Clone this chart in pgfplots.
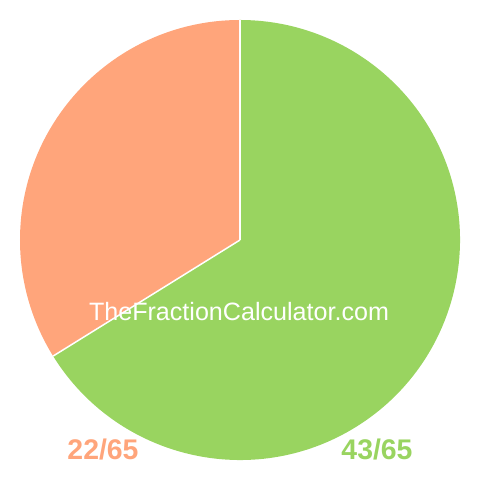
\documentclass[border=0pt]{standalone}
\usepackage{fontspec}
\setmainfont{Liberation Sans}
\usepackage{pgfplots}
\usepackage{pgfplotstable}
\pgfplotsset{compat=1.18}
\definecolor{sliceA}{HTML}{FFA57B}
\definecolor{sliceB}{HTML}{99D460}
\pgfplotstableread{
part value
1 22
2 43
}\slices
\begin{document}
\begin{tikzpicture}
\pgfplotstablegetelem{0}{value}\of\slices \let\va\pgfplotsretval
\pgfplotstablegetelem{1}{value}\of\slices \let\vb\pgfplotsretval
\pgfmathsetmacro{\tot}{\va+\vb}
\pgfmathsetmacro{\angA}{90+360*\va/\tot}
\begin{axis}[x=1bp, y=1bp, xmin=0, xmax=480, ymin=0, ymax=480,
  hide axis, scale only axis, clip=false]
  \coordinate (ll) at (axis cs:0,0);
  \coordinate (ur) at (axis cs:480,480);
  % orange slice, counterclockwise from the top
  \fill[sliceA] (axis cs:240,240) -- ++(90:220bp) arc[start angle=90, end angle=\angA, radius=220bp] -- cycle;
  % green slice, the rest
  \fill[sliceB] (axis cs:240,240) -- ++(\angA:220bp) arc[start angle=\angA, end angle=450, radius=220bp] -- cycle;
  \draw[white, line width=1.5bp] (axis cs:240,240) -- ++(90:220bp);
  \draw[white, line width=1.5bp] (axis cs:240,240) -- ++(\angA:220bp);
  \node[white, font=\fontsize{25.2}{28}\selectfont] at (axis cs:239,168) {TheFractionCalculator.com};
  \node[sliceA, font=\fontsize{28.5}{30}\selectfont\bfseries] at (axis cs:103,31) {22/65};
  \node[sliceB, font=\fontsize{28.5}{30}\selectfont\bfseries] at (axis cs:377,31) {43/65};
\end{axis}
\pgfresetboundingbox
\path[use as bounding box] (ll) rectangle (ur);
\end{tikzpicture}
\end{document}
